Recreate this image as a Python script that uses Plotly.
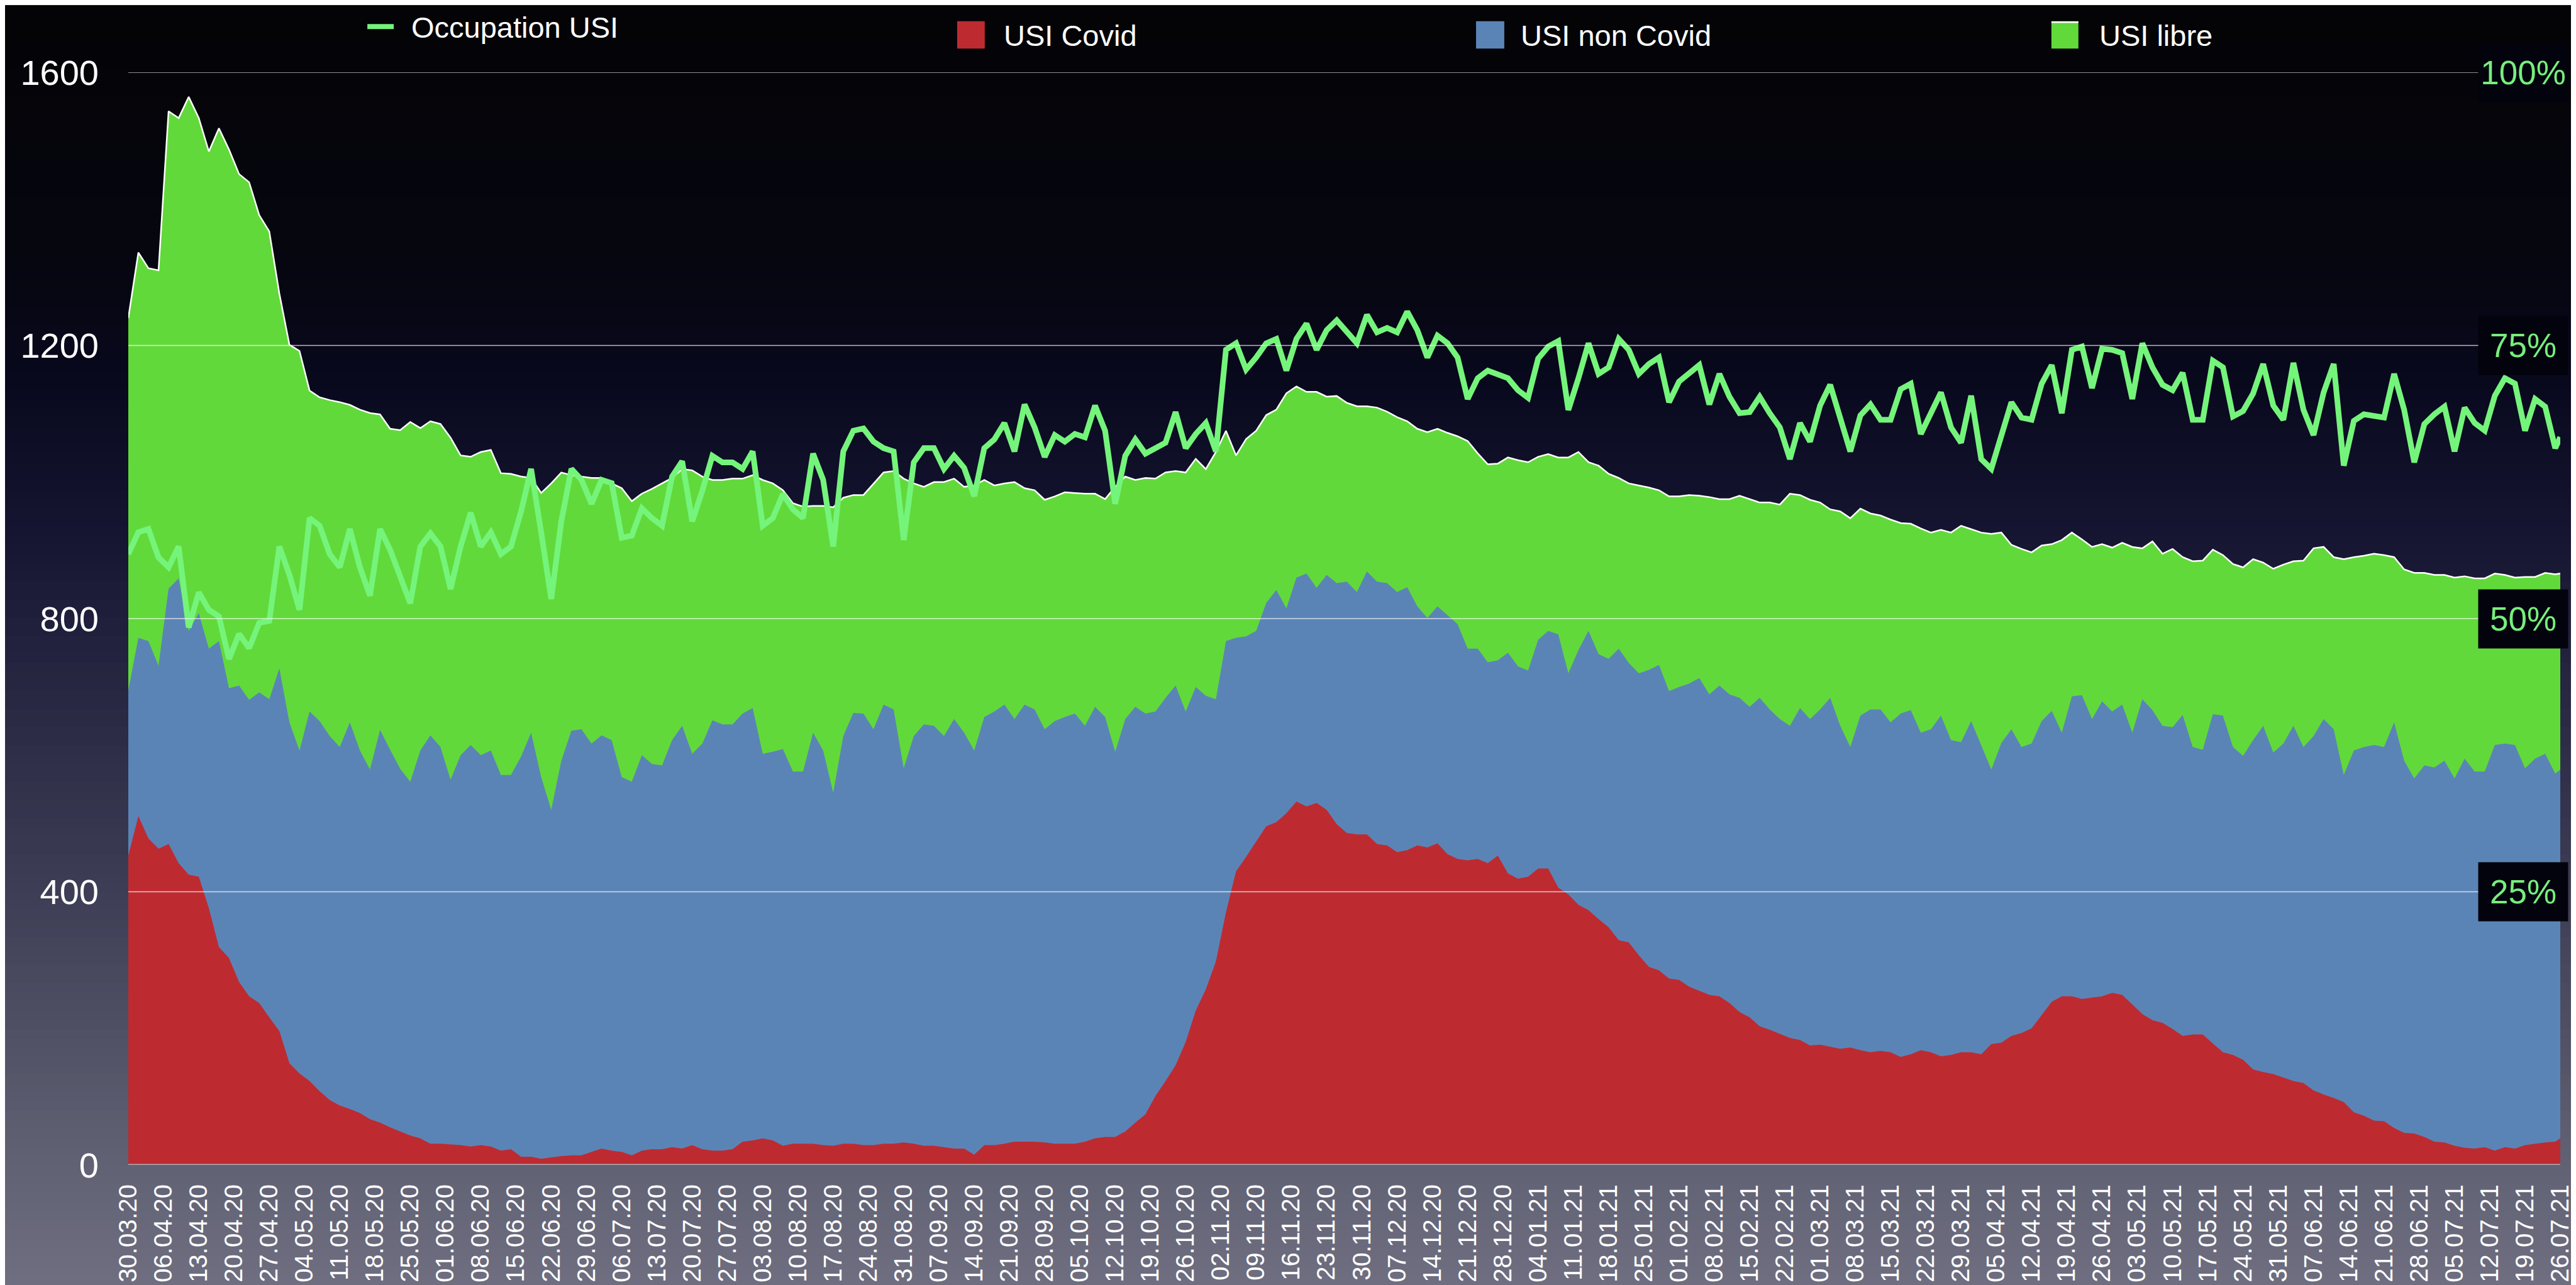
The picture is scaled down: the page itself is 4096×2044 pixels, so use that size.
import pandas as pd
import plotly.graph_objects as go

# ---------------- data (one sample every 2 days + last day) ----------------
start_date = "2020-03-30"
day_offsets = list(range(0, 483, 2)) + [483]

# USI Covid (red, bottom layer)
usi_covid = [
    453, 511, 478, 463, 470, 442, 425, 422, 376, 319, 303, 268, 247, 237, 216, 196, 149, 134, 123, 108,
    95, 87, 82, 76, 67, 62, 55, 49, 43, 39, 31, 31, 30, 29, 27, 29, 27, 21, 23, 12,
    12, 9, 11, 13, 14, 14, 19, 24, 21, 19, 14, 21, 23, 23, 26, 24, 29, 23, 21, 21, 23,
    34, 36, 39, 36, 28, 31, 31, 31, 29, 28, 31, 31, 29, 29, 31, 31, 33, 31, 28, 28,
    26, 24, 24, 15, 29, 29, 31, 34, 34, 34, 33, 31, 31, 31, 34, 39, 41, 41, 49, 62,
    74, 101, 123, 146, 180, 226, 257, 298, 370, 430, 451, 473, 496, 502, 515, 532, 525, 530, 520, 499,
    486, 484, 484, 470, 468, 458, 461, 468, 465, 471, 455, 448, 446, 448, 442, 453, 427, 419, 422, 434,
    434, 406, 396, 381, 373, 360, 348, 329, 326, 307, 290, 285, 273, 271, 261, 255, 249, 247, 237, 224,
    216, 203, 198, 192, 186, 183, 175, 176, 173, 170, 172, 168, 165, 167, 165, 158, 162, 168, 165, 159,
    161, 165, 165, 162, 177, 179, 189, 193, 200, 220, 239, 247, 247, 243, 245, 247, 252, 249, 235, 221,
    212, 208, 199, 189, 191, 191, 178, 165, 161, 154, 140, 136, 133, 128, 123, 120, 109, 103, 98, 92,
    77, 72, 65, 64, 54, 47, 46, 41, 34, 33, 28, 25, 24, 26, 21, 26, 24, 29, 31, 33, 34, 39,
]

# Upper edge of the blue layer: occupied beds (Covid + non Covid)
usi_occupied = [
    695, 772, 767, 731, 844, 859, 782, 808, 756, 767, 698, 702, 681, 692, 682, 727, 648, 607, 664, 650,
    628, 612, 648, 607, 579, 637, 608, 580, 561, 607, 629, 612, 564, 600, 615, 600, 607, 571, 571, 598,
    633, 568, 520, 592, 636, 638, 617, 629, 622, 568, 561, 600, 587, 585, 622, 643, 602, 617, 651, 645, 645,
    661, 669, 602, 605, 609, 576, 576, 633, 607, 545, 628, 662, 661, 638, 674, 667, 581, 628, 645, 643,
    628, 653, 633, 607, 656, 664, 674, 653, 674, 667, 638, 650, 656, 661, 643, 671, 656, 605, 653, 671,
    661, 664, 684, 702, 664, 700, 687, 682, 767, 772, 774, 782, 823, 842, 815, 860, 866, 845, 864, 852,
    854, 839, 869, 854, 852, 839, 846, 818, 801, 818, 805, 792, 756, 756, 736, 739, 750, 730, 724, 769,
    782, 777, 720, 754, 782, 748, 741, 756, 735, 720, 725, 732, 694, 700, 705, 713, 689, 702, 689, 684,
    671, 684, 667, 653, 643, 669, 653, 667, 684, 643, 612, 658, 667, 667, 648, 661, 666, 633, 638, 658,
    622, 619, 650, 615, 579, 618, 638, 612, 617, 650, 665, 633, 686, 688, 653, 679, 664, 674, 633, 682,
    666, 643, 641, 659, 612, 608, 660, 658, 612, 599, 622, 643, 604, 617, 643, 612, 628, 653, 638, 571,
    607, 612, 615, 612, 648, 592, 566, 585, 582, 592, 566, 595, 576, 576, 615, 617, 615, 581, 595, 602, 573, 579,
]

# Upper edge of the green layer: total USI capacity (occupied + libre)
usi_capacity = [
    1240, 1336, 1313, 1310, 1543, 1533, 1564, 1533, 1484, 1518, 1487, 1451, 1439, 1391, 1367, 1276, 1201, 1192, 1134, 1124,
    1120, 1117, 1113, 1106, 1101, 1099, 1078, 1076, 1088, 1079, 1089, 1085, 1065, 1039, 1037, 1044, 1047, 1013, 1012, 1008,
    1006, 984, 998, 1014, 1010, 1008, 1006, 1006, 998, 991, 972, 983, 990, 998, 1006, 1019, 1017, 1008, 1003, 1003, 1005,
    1005, 1010, 1003, 998, 988, 969, 964, 965, 965, 963, 977, 981, 981, 998, 1014, 1016, 1005, 998, 993, 1000,
    1000, 1005, 993, 995, 1003, 995, 998, 1000, 991, 988, 974, 979, 985, 984, 983, 983, 975, 993, 1008, 1003,
    1006, 1005, 1014, 1016, 1014, 1034, 1019, 1044, 1075, 1039, 1063, 1075, 1098, 1106, 1130, 1140, 1132, 1132, 1125, 1126,
    1116, 1111, 1111, 1109, 1103, 1095, 1089, 1078, 1073, 1078, 1072, 1067, 1060, 1042, 1026, 1027, 1036, 1032, 1029, 1037,
    1041, 1036, 1036, 1044, 1029, 1024, 1012, 1006, 998, 995, 992, 988, 979, 979, 981, 980, 978, 975, 975, 980,
    975, 970, 970, 967, 983, 981, 974, 970, 960, 957, 947, 961, 954, 951, 945, 940, 939, 932, 926, 930,
    926, 936, 931, 926, 924, 926, 908, 902, 897, 907, 909, 915, 926, 916, 905, 909, 904, 911, 905, 903,
    913, 895, 902, 890, 884, 885, 901, 893, 880, 875, 887, 882, 873, 879, 884, 885, 903, 905, 890, 887,
    890, 892, 895, 893, 890, 872, 867, 867, 864, 864, 860, 862, 859, 859, 866, 864, 860, 861, 861, 867, 865, 866,
]

# Occupation USI (%), right-hand scale
occupation_pct = [
    55.9, 57.9, 58.2, 55.6, 54.7, 56.6, 49.2, 52.4, 50.8, 50.2, 46.3, 48.6, 47.3, 49.6, 49.8, 56.6, 54.0, 50.8, 59.2, 58.5,
    55.9, 54.7, 58.2, 54.7, 52.1, 58.2, 56.3, 54.0, 51.4, 56.6, 57.8, 56.6, 52.7, 56.6, 59.7, 56.6, 57.9, 55.9, 56.6, 59.8,
    63.7, 57.9, 51.8, 58.9, 63.7, 62.7, 60.5, 62.7, 62.4, 57.4, 57.6, 60.1, 59.2, 58.5, 63.0, 64.4, 58.9, 61.7, 64.9, 64.3, 64.3,
    63.7, 65.3, 58.5, 59.2, 61.4, 60.0, 59.2, 65.1, 62.7, 56.6, 65.3, 67.2, 67.4, 66.2, 65.6, 65.3, 57.2, 64.3, 65.6, 65.6,
    63.7, 64.9, 63.8, 61.2, 65.6, 66.4, 67.9, 65.3, 69.6, 67.5, 64.8, 66.8, 66.2, 66.9, 66.6, 69.5, 67.2, 60.5, 64.9, 66.4,
    65.1, 65.6, 66.1, 68.9, 65.6, 66.9, 67.9, 65.3, 74.6, 75.2, 72.8, 73.9, 75.2, 75.6, 72.7, 75.6, 77.0, 74.6, 76.4, 77.3,
    76.3, 75.2, 77.8, 76.2, 76.6, 76.2, 78.1, 76.4, 73.9, 75.9, 75.2, 73.9, 70.1, 72.0, 72.7, 72.4, 72.0, 70.9, 70.2, 73.8,
    74.9, 75.4, 69.1, 72.0, 75.2, 72.4, 73.0, 75.6, 74.6, 72.4, 73.3, 73.9, 69.8, 71.7, 72.5, 73.2, 69.6, 72.4, 70.3, 68.8,
    68.9, 70.3, 68.8, 67.5, 64.6, 67.9, 66.2, 69.5, 71.4, 68.5, 65.3, 68.6, 69.6, 68.2, 68.2, 71.0, 71.5, 66.9, 68.8, 70.7,
    67.5, 66.1, 70.4, 64.6, 63.7, 66.9, 69.8, 68.4, 68.2, 71.5, 73.2, 68.8, 74.6, 74.9, 71.1, 74.7, 74.6, 74.3, 70.1, 75.2,
    73.0, 71.4, 70.9, 72.5, 68.2, 68.2, 73.6, 73.0, 68.5, 69.0, 70.6, 73.3, 69.5, 68.2, 73.4, 69.1, 66.8, 70.7, 73.3, 64.0,
    68.1, 68.7, 68.5, 68.4, 72.4, 69.1, 64.3, 67.8, 68.7, 69.4, 65.3, 69.3, 67.9, 67.2, 70.4, 72.0, 71.5, 67.2, 70.1, 69.4, 65.6, 66.6,
]

series_names = ["Occupation USI", "USI Covid", "USI non Covid", "USI libre"]
y_ticks = [0, 400, 800, 1200, 1600]
pct_ticks = [25, 50, 75, 100]
pct_labels = ["25%", "50%", "75%", "100%"]

assert len(usi_covid) == len(usi_occupied) == len(usi_capacity) == len(occupation_pct) == len(day_offsets)

dates = [pd.Timestamp(start_date) + pd.Timedelta(days=d) for d in day_offsets]

# ---------------- styling / layout geometry ----------------
W, H = 4096, 2044
ML, MR, MT, MB = 196, 24, 107, 191
PX0, PX1, PY0, PY1 = ML, W - MR, MT, H - MB

def px_x(px):
    return (px - PX0) / (PX1 - PX0)

def px_y(py):
    return (PY1 - py) / (PY1 - PY0)

FONT = "Liberation Sans, Arial, Helvetica, sans-serif"
C_RED = "#bd2b31"
C_BLUE = "#5b84b6"
C_GREEN = "#62d93a"
C_LINE = "#75f47b"
C_LABEL = "#77ee7c"

fig = go.Figure()

fig.add_trace(go.Scatter(
    x=dates, y=usi_capacity, name=series_names[3], mode="lines",
    fill="tozeroy", fillcolor=C_GREEN, line=dict(color="white", width=2.5),
    showlegend=False, hoverinfo="skip"))
fig.add_trace(go.Scatter(
    x=dates, y=usi_occupied, name=series_names[2], mode="lines",
    fill="tozeroy", fillcolor=C_BLUE, line=dict(color=C_BLUE, width=0),
    showlegend=False, hoverinfo="skip"))
fig.add_trace(go.Scatter(
    x=dates, y=usi_covid, name=series_names[1], mode="lines",
    fill="tozeroy", fillcolor=C_RED, line=dict(color=C_RED, width=0),
    showlegend=False, hoverinfo="skip"))
fig.add_trace(go.Scatter(
    x=dates, y=occupation_pct, name=series_names[0], mode="lines", yaxis="y2",
    line=dict(color=C_LINE, width=9), showlegend=False, hoverinfo="skip"))

# ---------------- background gradient ----------------
stops = [
    (0.00, (4, 4, 6)),
    (0.20, (6, 6, 16)),
    (0.30, (9, 9, 30)),
    (0.40, (20, 20, 48)),
    (0.50, (34, 34, 62)),
    (0.60, (48, 48, 74)),
    (0.70, (62, 62, 86)),
    (0.80, (80, 80, 100)),
    (0.90, (97, 97, 116)),
    (1.00, (110, 110, 128)),
]

def grad(t):
    for (t0, c0), (t1, c1) in zip(stops[:-1], stops[1:]):
        if t <= t1:
            f = (t - t0) / (t1 - t0)
            return tuple(round(a + (b - a) * f) for a, b in zip(c0, c1))
    return stops[-1][1]

shapes = []
NB = 140
for i in range(NB):
    y_top = H * i / NB
    y_bot = H * (i + 1) / NB + 1
    r, g, b = grad((i + 0.5) / NB)
    shapes.append(dict(type="rect", xref="paper", yref="paper",
                       x0=px_x(-5), x1=px_x(W + 5), y0=px_y(y_bot), y1=px_y(y_top),
                       fillcolor=f"rgb({r},{g},{b})", line=dict(width=0), layer="below"))

# grid lines above the areas
for v in y_ticks[1:]:
    shapes.append(dict(type="line", xref="paper", yref="y", x0=0, x1=1, y0=v, y1=v,
                       line=dict(color="rgba(255,255,255,0.72)", width=1.5), layer="above"))
# baseline
shapes.append(dict(type="line", xref="paper", yref="y", x0=0, x1=1, y0=0, y1=0,
                   line=dict(color="#aeaeb6", width=3), layer="above"))

# ---------------- manual legend ----------------
annotations = []
leg_text_x = [645, 1589, 2413, 3335]
leg_text_y = [35, 48, 48, 48]
# line symbol
shapes.append(dict(type="line", xref="paper", yref="paper",
                   x0=px_x(577), x1=px_x(619), y0=px_y(34), y1=px_y(34),
                   line=dict(color=C_LINE, width=8), layer="above"))
for (x0, x1), col in zip([(1517, 1561), (2344, 2389), (3261, 3304)], [C_RED, C_BLUE, C_GREEN]):
    shapes.append(dict(type="rect", xref="paper", yref="paper",
                       x0=px_x(x0), x1=px_x(x1), y0=px_y(69), y1=px_y(25.5),
                       fillcolor=col, line=dict(width=0), layer="above"))
shapes.append(dict(type="line", xref="paper", yref="paper",
                   x0=px_x(3261), x1=px_x(3304), y0=px_y(27), y1=px_y(27),
                   line=dict(color="white", width=2.5), layer="above"))
for name, tx, ty in zip(series_names, leg_text_x, leg_text_y):
    annotations.append(dict(text=name, xref="paper", yref="paper", x=px_x(tx), y=px_y(ty),
                            xanchor="left", yanchor="middle", showarrow=False,
                            font=dict(family=FONT, size=47, color="white")))

# right-hand percentage labels in dark boxes
for v, lab in zip(pct_ticks, pct_labels):
    annotations.append(dict(text=lab, xref="paper", yref="y2", x=px_x(4013), y=v,
                            xanchor="center", yanchor="middle", showarrow=False,
                            width=142, height=93, borderpad=0, bgcolor="#03030d",
                            font=dict(family=FONT, size=53, color=C_LABEL)))

fig.update_layout(
    width=W, height=H, autosize=False,
    margin=dict(l=ML, r=MR, t=MT, b=MB, pad=0),
    paper_bgcolor="#2a2a40", plot_bgcolor="rgba(0,0,0,0)",
    font=dict(family=FONT, color="white"),
    hovermode=False, showlegend=False,
    shapes=shapes, annotations=annotations,
    xaxis=dict(type="date", range=[dates[0], dates[-1]],
               tick0=start_date, dtick=7 * 86400000, tickformat="%d.%m.%y",
               tickangle=-90, ticks="", ticklabelstandoff=22,
               tickfont=dict(family=FONT, size=40, color="white"),
               showgrid=False, zeroline=False, showline=False),
    yaxis=dict(range=[0, 1600], tickvals=y_ticks, ticktext=[str(v) for v in y_ticks],
               ticks="", ticklabelstandoff=46,
               tickfont=dict(family=FONT, size=56, color="white"),
               showgrid=False, zeroline=False, showline=False),
    yaxis2=dict(range=[0, 100], overlaying="y", side="right", visible=False,
                showgrid=False, zeroline=False),
)

fig.write_html("out.html", config={"displayModeBar": False})
